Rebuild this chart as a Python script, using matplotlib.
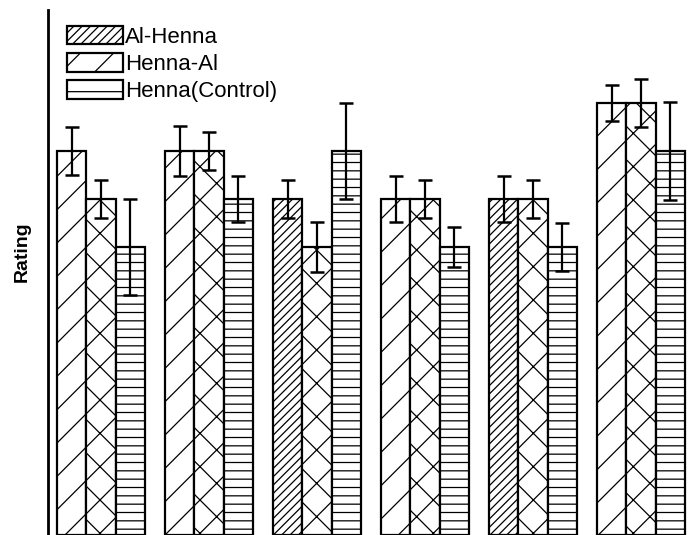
import matplotlib
matplotlib.use("Agg")
import matplotlib.pyplot as plt
import matplotlib.patches as mpatches
import numpy as np

plt.rcParams['font.family'] = ['Liberation Sans', 'DejaVu Sans']
plt.rcParams['hatch.linewidth'] = 0.9
plt.rcParams['hatch.color'] = 'black'

series = ["Al-Henna", "Henna-Al", "Henna(Control)"]
n_groups = 6
al_henna = [4.0, 4.0, 3.5, 3.5, 3.5, 4.5]
henna_al = [3.5, 4.0, 3.0, 3.5, 3.5, 4.5]
control = [3.0, 3.5, 4.0, 3.0, 3.0, 4.0]
al_henna_err = [0.25, 0.26, 0.20, 0.24, 0.24, 0.19]
henna_al_err = [0.20, 0.20, 0.26, 0.20, 0.20, 0.25]
control_err = [0.50, 0.24, 0.50, 0.21, 0.25, 0.51]

values = [al_henna, henna_al, control]
errors = [al_henna_err, henna_al_err, control_err]
hatches = [['/', '/', '////', '/', '////', '/'],
           ['x'] * 6,
           ['--'] * 6]
legend_hatches = ['////', '/', '-']

W, H = 688, 535
fig = plt.figure(figsize=(W / 100, H / 100), dpi=100)
ax = fig.add_axes([48 / W, 0, 640 / W, 525 / H])

x = np.arange(n_groups)
width = 0.27
for i in range(3):
    xs = x + (i - 1) * width
    for j in range(n_groups):
        ax.bar(xs[j], values[i][j], width=width, bottom=0, facecolor='white',
               edgecolor='black', linewidth=1.6, hatch=hatches[i][j], zorder=2)
    ax.errorbar(xs, values[i], yerr=errors[i], fmt='none', ecolor='black',
                elinewidth=1.6, capsize=4.8, capthick=1.8, zorder=3)

ax.set_xlim(-0.49, 5.435)
ax.set_ylim(0, 5.47)
for s in ['top', 'right', 'bottom']:
    ax.spines[s].set_visible(False)
ax.spines['left'].set_linewidth(2.0)
ax.set_xticks([])
ax.set_yticks([])

ax.set_ylabel("Rating", fontsize=14, fontweight='bold')
ax.yaxis.set_label_coords(-26 / 640, (535 - 252) / 525)
ax.yaxis.label.set_verticalalignment('center')

handles = [mpatches.Patch(facecolor='white', edgecolor='black', linewidth=1.6,
                          hatch=h, label=s) for h, s in zip(legend_hatches, series)]
leg = fig.legend(handles=handles, loc='upper left',
                 bbox_to_anchor=(67 / W, 1 - 26 / H), frameon=False,
                 fontsize=16, handlelength=2.5, handleheight=0.9,
                 handletextpad=0.12, labelspacing=0.24, borderpad=0,
                 borderaxespad=0)

fig.savefig("out.png", dpi=100)
